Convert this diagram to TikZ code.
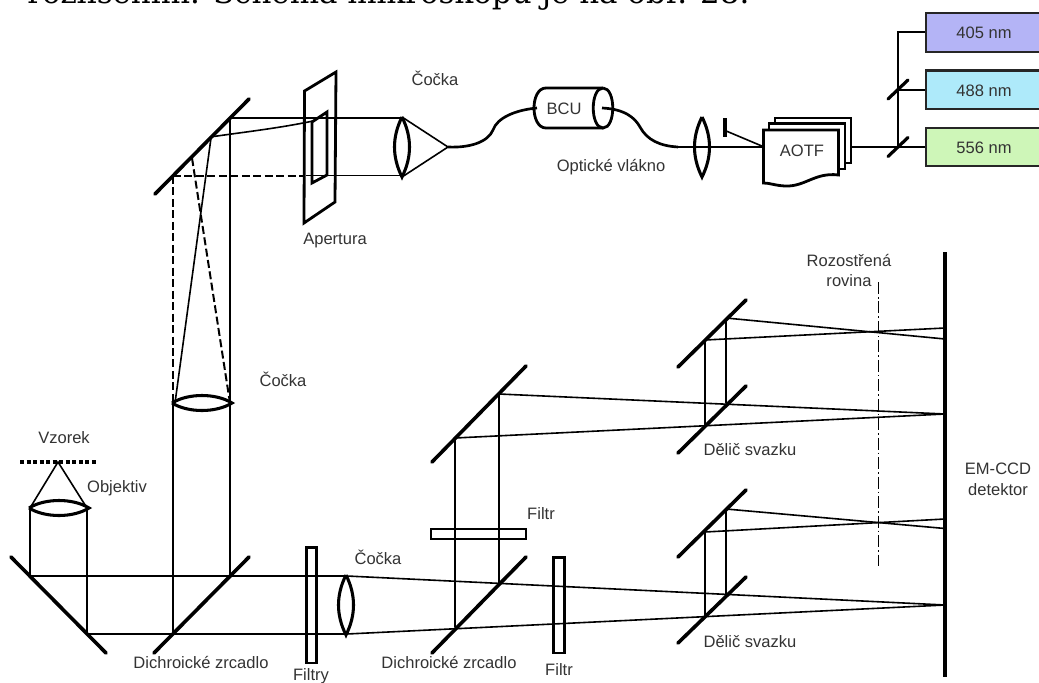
\documentclass[tikz,border=0pt]{standalone}
\usepackage{fontspec}
\setmainfont{Liberation Sans}
\newfontfamily\headfont{DejaVu Serif}
\definecolor{txt}{HTML}{333333}
\definecolor{violetbox}{HTML}{B4B4F6}
\definecolor{cyanbox}{HTML}{AEEAFA}
\definecolor{greenbox}{HTML}{CEF6B8}
\tikzset{
  ray/.style={line width=1.2pt,black},
  heavy/.style={line width=2.4pt,black},
  mirror/.style={line width=2.7pt,black,line cap=round},
  lensline/.style={line width=2.3pt,black},
  framed/.style={line width=2.1pt,black},
  dashray/.style={line width=1.5pt,black,dash pattern=on 6pt off 2.6pt},
  lbl/.style={font=\fontsize{12.4pt}{14pt}\selectfont,text=txt,inner sep=0pt,align=center},
  laser/.style={line width=1.9pt,draw=black!85},
}
\begin{document}
\begin{tikzpicture}[x=0.75pt,y=-0.75pt]
\useasboundingbox (0,0) rectangle (1039,682);
\clip (0,0) rectangle (1039,682);
\fill[white] (0,0) rectangle (1039,682);
% clipped heading
\node[anchor=base west,inner sep=0pt,font=\headfont\fontsize{23.2pt}{28pt}\selectfont] (head) at (27,3) {rozlišením. Schéma mikroskopu je na obr. 28.};

% ---- upper beam path
\draw[mirror] (155,194) -- (249,99);
\draw[ray] (230,118) -- (402,118);
\draw[ray] (306,175.5) -- (402,175.5);
\draw[dashray] (173,175.5) -- (305,175.5);
\draw[framed] (304.5,91) -- (336,72) -- (335,202) -- (304,223) -- cycle;
\draw[framed] (312,122) -- (327,112) -- (327,175) -- (312,183) -- cycle;
\draw[ray] (210,137) .. controls (245,132) and (280,128) .. (313,121);
\draw[ray] (211,138) -- (175,403);
\draw[ray] (230,118) -- (230,576);
\draw[dashray] (173,176) -- (173,403);
\draw[dashray] (192,158) -- (230,403);

% lens and cone to fibre
\draw[lensline] (402,117) .. controls (392,137) and (392,157) .. (402,177) .. controls (412,157) and (412,137) .. (402,117);
\draw[ray] (402,117) -- (448,147) -- (402,177);
\draw[line width=2pt] (448,147) .. controls (470,148) and (488,142) .. (493,130) .. controls (497,118) and (515,110) .. (537,108);

% BCU
\draw[framed] (603,88) -- (546,88) .. controls (530,88) and (530,128) .. (546,128) -- (603,128);
\draw[framed] (603,88) .. controls (590,88) and (590,128) .. (603,128) .. controls (616,128) and (616,88) .. (603,88);
\node[lbl] (bcu) at (564,108.5) {BCU};
\draw[line width=2pt] (602,108) .. controls (625,109) and (635,118) .. (640,127) .. controls (647,140) and (660,146) .. (678,147);

% second lens, AOTF
\draw[ray] (678,147) -- (763,147);
\draw[lensline] (702,117) .. controls (692,137) and (692,157) .. (702,177) .. controls (712,157) and (712,137) .. (702,117);
\draw[line width=2.3pt] (725,118) -- (725,137);
\draw[ray] (725,130.5) -- (763,146.5);
\draw[framed] (775,123) -- (775,118) -- (851,118) -- (851,163) -- (845,163);
\draw[framed] (769,129) -- (769,123.5) -- (845,123.5) -- (845,169) -- (839,169);
\draw[framed] (763.5,130) -- (838.5,130) -- (838.5,175) .. controls (815,172) and (805,187) .. (785,186) .. controls (775,185.5) and (770,183) .. (763.5,183) -- cycle;
\node[lbl] (aotf) at (802,151) {AOTF};

% lasers
\draw[ray] (851,147) -- (926,147);
\draw[line width=1.7pt] (898,147) -- (898,32) -- (926,32);
\draw[ray] (898,90) -- (926,90);
\draw[mirror,line width=2.4pt] (888,99) -- (908,80);
\draw[mirror,line width=2.4pt] (888,156.5) -- (908,137.5);
\draw[laser,fill=violetbox] (926,13) rectangle (1045,52);
\draw[laser,fill=cyanbox] (926,70.5) rectangle (1045,109);
\draw[laser,fill=greenbox] (926,128) rectangle (1045,166);
\node[lbl] (l405) at (984,33) {405 nm};
\node[lbl] (l488) at (984,90.5) {488 nm};
\node[lbl] (l556) at (984,147.5) {556 nm};

% ---- lower left
\draw[dash pattern=on 3pt off 1.9pt,line width=2.6pt] (20,462) -- (98,462);
\draw[ray] (30,508) -- (58,462) -- (87,508);
\draw[ray] (30,508) -- (30,576);
\draw[ray] (87,508) -- (87,634);
\draw[lensline] (29,508) .. controls (45,498) and (73,498) .. (89,508) .. controls (73,518) and (45,518) .. (29,508);
\draw[mirror] (11,557) -- (106,653);
\draw[mirror] (154,653) -- (249,557);
\draw[ray] (173,403) -- (173,633);
\draw[lensline] (172,403) .. controls (188,393) and (216,393) .. (232,403) .. controls (216,413) and (188,413) .. (172,403);
\draw[ray] (30,576) -- (347,576);
\draw[ray] (87,634) -- (347,634);
\draw[framed] (306.5,547.5) rectangle (316.5,663);
\draw[lensline] (346,575) .. controls (336,595) and (336,615) .. (346,635) .. controls (356,615) and (356,595) .. (346,575);

% ---- converging rays to the detector
\draw[ray] (347,576) -- (945,605);
\draw[ray] (347,634) -- (945,605);
\draw[mirror] (432,653) -- (526,557);
\draw[mirror] (432,462) -- (526,366);
\draw[ray] (455,438) -- (455,627);
\draw[ray] (499,394) -- (499,583);
\draw[ray] (499,394) -- (945,414);
\draw[ray] (455,438) -- (945,414);
\draw[framed,line width=1.9pt] (431,529) rectangle (526,539);
\draw[framed] (553.5,557.5) rectangle (564.5,653);

% ---- beam splitters, upper group
\draw[mirror] (678,367) -- (746,300);
\draw[mirror] (678,453) -- (746,386);
\draw[ray] (705,340) -- (705,426);
\draw[ray] (726,318) -- (726,403);
\draw[ray] (726,318) -- (945,339);
\draw[ray] (705,340) -- (945,328);
% lower group
\draw[mirror] (678,557) -- (746,490);
\draw[mirror] (678,643) -- (746,577);
\draw[ray] (705,532) -- (705,616);
\draw[ray] (726,509) -- (726,594);
\draw[ray] (726,509) -- (945,528.5);
\draw[ray] (705,532) -- (945,519);

% detector and defocused plane
\draw[heavy] (945,252) -- (945,677);
\draw[line width=1.2pt,dash pattern=on 9pt off 2.2pt on 1.2pt off 2.2pt] (878.5,282) -- (878.5,566);

% ---- labels
\node[lbl] (t1) at (435,78.5) {Čočka};
\node[lbl] (t2) at (335,240.5) {Apertura};
\node[lbl] (t3) at (611,167) {Optické vlákno};
\node[lbl] (t4) at (283,379.5) {Čočka};
\node[lbl] (t5) at (64,437.5) {Vzorek};
\node[lbl] (t6) at (117,488) {Objektiv};
\node[lbl] (t7) at (201,662.5) {Dichroické zrcadlo};
\node[lbl] (t8) at (311,676) {Filtry};
\node[lbl] (t9) at (378,557.5) {Čočka};
\node[lbl] (t10) at (449,662.5) {Dichroické zrcadlo};
\node[lbl] (t11) at (541,514) {Filtr};
\node[lbl] (t12) at (559,670) {Filtr};
\node[lbl] (t13) at (750,450) {Dělič svazku};
\node[lbl] (t14) at (750,641.5) {Dělič svazku};
\node[lbl] (t15) at (849,260) {Rozostřená};
\node[lbl] (t16) at (849,281) {rovina};
\node[lbl] (t17) at (998,469) {EM-CCD};
\node[lbl] (t18) at (998,490) {detektor};
\end{tikzpicture}
\end{document}
